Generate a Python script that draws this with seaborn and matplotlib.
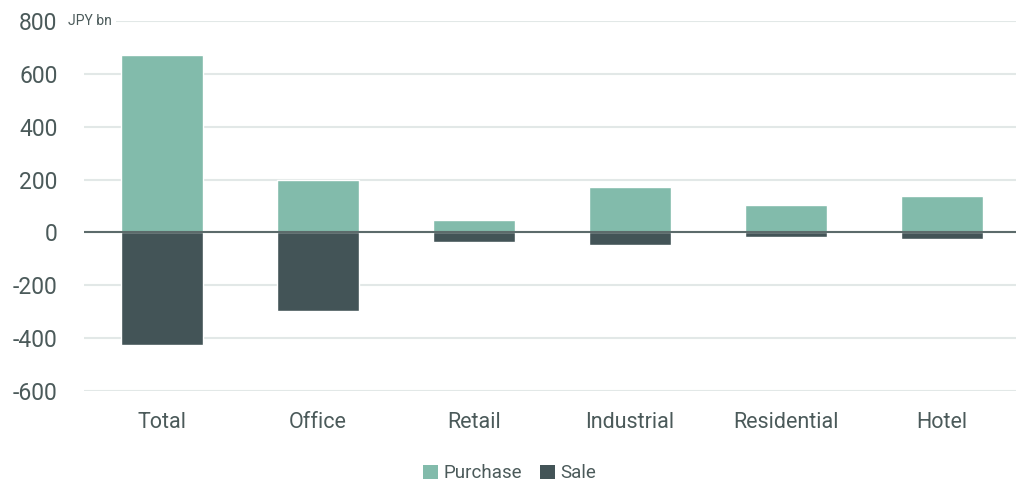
import matplotlib
matplotlib.use("Agg")
import matplotlib.pyplot as plt
import seaborn as sns
import pandas as pd
from matplotlib.patches import Patch

categories = ["Total", "Office", "Retail", "Industrial", "Residential", "Hotel"]
purchase = [672, 197, 47, 171, 105, 137]
sale = [-425, -297, -35, -47, -16, -24]
series_names = ["Purchase", "Sale"]
yticks = [-600, -400, -200, 0, 200, 400, 600, 800]

colors = {"Purchase": "#82bbab", "Sale": "#435457"}
text_color = "#4b5a5a"

sns.set_theme(style="white")
plt.rcParams["font.family"] = ["Roboto", "DejaVu Sans"]

df = pd.DataFrame({
    "category": categories * 2,
    "value": purchase + sale,
    "series": ["Purchase"] * len(categories) + ["Sale"] * len(categories),
})

fig = plt.figure(figsize=(10.16, 4.83), dpi=100)
ax = fig.add_axes([84 / 1016, 0.1905, 932 / 1016, 0.766])

sns.barplot(data=df, x="category", y="value", hue="series", dodge=False,
            palette=colors, width=0.525, ax=ax, legend=False, saturation=1)

ax.set_ylim(-600, 800)
ax.set_xlim(-0.5, 5.474)
ax.set_yticks(yticks)
ax.set_yticklabels([str(v) for v in yticks])
ax.grid(axis="y", color="#e2e8e7", linewidth=1.5, zorder=0)
ax.set_axisbelow(True)
ax.axhline(0, color="#5c6b6b", linewidth=1.5, zorder=3)
for s in ax.spines.values():
    s.set_visible(False)
ax.tick_params(axis="y", length=0, pad=19, labelsize=16.5, labelcolor=text_color)
ax.tick_params(axis="x", length=0, pad=15, labelsize=15.5, labelcolor=text_color)
ax.set_xlabel("")
ax.set_ylabel("")

ax.text(-0.603, 800, "JPY bn", fontsize=10, color=text_color, va="center", ha="left",
        bbox=dict(facecolor="white", edgecolor="none", pad=3), zorder=4, clip_on=False)

handles = [Patch(facecolor=colors[n], edgecolor="none", label=n) for n in series_names]
fig.legend(handles=handles, loc="center", bbox_to_anchor=(0.5015, 0.02), ncol=2,
           frameon=False, fontsize=13.5, handlelength=0.8, handleheight=0.8,
           handletextpad=0.3, columnspacing=0.95, labelcolor=text_color)

fig.savefig("out.png", dpi=100)
